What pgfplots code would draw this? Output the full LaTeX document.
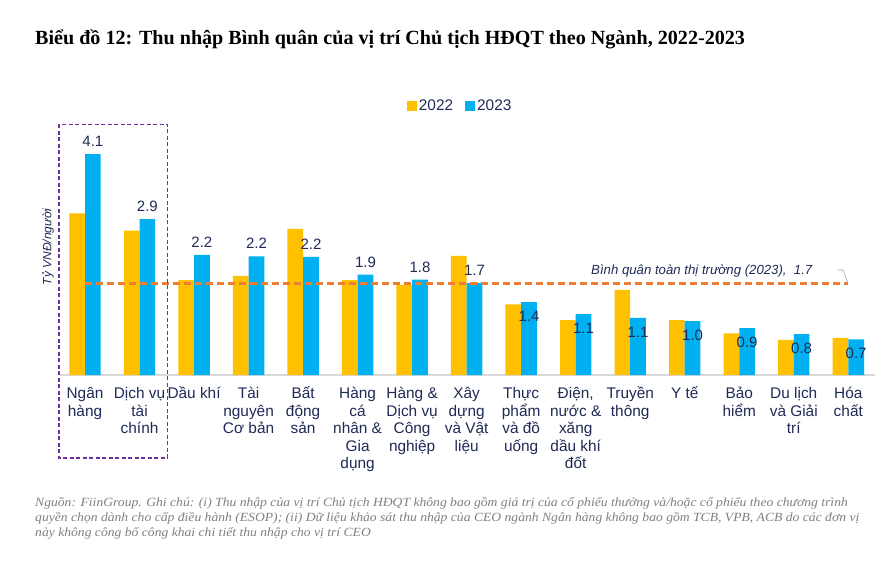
\documentclass[border=0pt]{standalone}
\usepackage{fontspec}
\setmainfont{Liberation Sans}
\newfontfamily\titlefont{Liberation Serif}
\newfontfamily\notefont{Liberation Serif}[FakeStretch=1.09]
\usepackage{pgfplots}
\usepackage{pgfplotstable}
\pgfplotsset{compat=1.18}
\definecolor{c22}{HTML}{FFC000}
\definecolor{c23}{HTML}{00B0F0}
\definecolor{avgc}{HTML}{ED7D31}
\definecolor{boxc}{HTML}{7030A0}
\definecolor{navy}{HTML}{1F2A56}
\definecolor{axisgray}{HTML}{D9D9D9}
\definecolor{notegray}{HTML}{7F7F7F}
\pgfplotsset{sqlegend/.style={legend image code/.code={\fill[##1] (0pt,-5pt) rectangle (10pt,5pt);}}}
\newcommand\st{\rule{0pt}{14.5pt}}
\pgfplotstableread{
x y22 y23 lab dy
0 3.00 4.10 4.1 12.7
1 2.68 2.89 2.9 12.7
2 1.76 2.23 2.2 12.7
3 1.84 2.20 2.2 12.7
4 2.71 2.19 2.2 12.7
5 1.76 1.86 1.9 12.7
6 1.67 1.77 1.8 12.7
7 2.21 1.71 1.7 12.7
8 1.31 1.35 1.4 -14
9 1.02 1.13 1.1 -14
10 1.58 1.06 1.1 -14
11 1.02 1.00 1.0 -14
12 0.77 0.87 0.9 -14
13 0.65 0.76 0.8 -14
14 0.69 0.66 0.7 -14
}\data
\begin{document}
\begin{tikzpicture}[x=1pt,y=1pt]
\path[use as bounding box] (0,0) rectangle (890,562);
\begin{axis}[
  at={(60pt,187pt)}, anchor=south west,
  scale only axis, width=815pt, height=269.5pt,
  xmin=-0.459, xmax=14.49, ymin=0, ymax=5,
  bar width=15.7pt,
  axis y line=none, axis x line*=bottom,
  x axis line style={draw=axisgray, line width=1.2pt, -},
  xtick={0,...,14}, major tick length=0pt,
  xticklabels={{\st Ngân\\hàng},{\st Dịch vụ\\tài\\chính},{\st Dầu khí},{\st Tài\\nguyên\\Cơ bản},{\st Bất\\động\\sản},{\st Hàng\\cá\\nhân \&\\Gia\\dụng},{\st Hàng \&\\Dịch vụ\\Công\\nghiệp},{\st Xây\\dựng\\và Vật\\liệu},{\st Thực\\phẩm\\và đồ\\uống},{\st Điện,\\nước \&\\xăng\\dầu khí\\đốt},{\st Truyền\\thông},{\st Y tế},{\st Bảo\\hiểm},{\st Du lịch\\và Giải\\trí},{\st Hóa\\chất}},
  xticklabel style={align=center, anchor=north, inner sep=0pt, yshift=-9.25pt, font=\fontsize{15.4}{17.5}\selectfont, text=navy},
  legend style={at={(0.491,1.0)}, anchor=center, draw=none, fill=none, font=\fontsize{15.4}{18}\selectfont, text=navy, legend columns=2, /tikz/every even column/.append style={column sep=10pt}},
  clip=false,
]
\addplot[ybar, bar shift=-7.85pt, fill=c22, draw=none, sqlegend] table[x=x, y=y22] {\data};
\addlegendentry{2022}
\addplot[ybar, bar shift=7.85pt, fill=c23, draw=none, sqlegend,
  point meta=explicit symbolic,
  visualization depends on={\thisrow{dy} \as \dy},
  nodes near coords,
  nodes near coords style={anchor=center, xshift=7.85pt, yshift=\dy pt, font=\fontsize{15}{18}\selectfont, text=navy, inner sep=0pt}]
  table[x=x, y=y23, meta=lab] {\data};
\addlegendentry{2023}
\addplot[sharp plot, draw=avgc, line width=2.6pt, dash pattern=on 7pt off 4pt, forget plot] coordinates {(0,1.7) (14,1.7)};
\end{axis}
% highlight box
\draw[boxc, line width=1.3pt, dash pattern=on 4pt off 2.5pt] (59,{562-124.3}) rectangle (167.7,{562-458});
% average annotation
\node[anchor=base west, inner sep=0pt, font=\fontsize{13.2}{15}\selectfont\itshape, text=navy] at (591,{562-275}) {Bình quân toàn thị trường (2023),\ \ 1.7};
\draw[gray!70, line width=0.6pt] (838,{562-270}) -- (843,{562-270}) -- (848,{562-283});
% y label
\node[rotate=90, inner sep=0pt, font=\fontsize{12}{14}\selectfont\itshape, text=navy] at (48,{562-247}) {Tỷ VNĐ/người};
% title
\node[anchor=base west, inner sep=0pt, font=\titlefont\bfseries\fontsize{20.1}{24}\selectfont] at (35,{562-44.5}) {Biểu đồ 12: Thu nhập Bình quân của vị trí Chủ tịch HĐQT theo Ngành, 2022-2023};
% note
\node[anchor=base west, inner sep=0pt, font=\notefont\itshape\fontsize{12.5}{15}\selectfont, text=notegray] at (35,{562-506.7}) {Nguồn: FiinGroup. Ghi chú: (i) Thu nhập của vị trí Chủ tịch HĐQT không bao gồm giá trị của cổ phiếu thưởng và/hoặc cổ phiếu theo chương trình};
\node[anchor=base west, inner sep=0pt, font=\notefont\itshape\fontsize{12.5}{15}\selectfont, text=notegray] at (35,{562-521.7}) {quyền chọn dành cho cấp điều hành (ESOP); (ii) Dữ liệu khảo sát thu nhập của CEO ngành Ngân hàng không bao gồm TCB, VPB, ACB do các đơn vị};
\node[anchor=base west, inner sep=0pt, font=\notefont\itshape\fontsize{12.5}{15}\selectfont, text=notegray] at (35,{562-536.5}) {này không công bố công khai chi tiết thu nhập cho vị trí CEO};
\end{tikzpicture}
\end{document}
